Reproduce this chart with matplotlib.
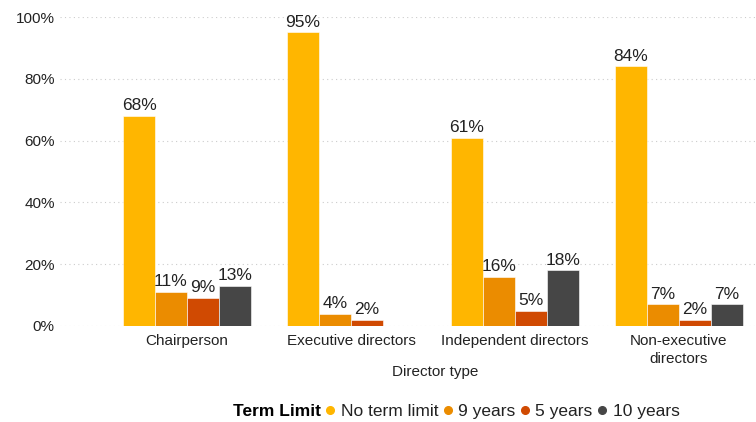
import numpy as np
import matplotlib.pyplot as plt
from matplotlib.lines import Line2D
import matplotlib.ticker as mticker

plt.rcParams["font.family"] = ["Liberation Sans", "DejaVu Sans"]

# ---- data ----
categories = ["Chairperson", "Executive directors", "Independent directors", "Non-executive\ndirectors"]
series_names = ["No term limit", "9 years", "5 years", "10 years"]
no_limit = [68, 95, 61, 84]
nine_years = [11, 4, 16, 7]
five_years = [9, 2, 5, 2]
ten_years = [13, np.nan, 18, 7]

colors = ["#FFB600", "#EB8C00", "#D04A02", "#464646"]
text_col = "#222222"

series = [no_limit, nine_years, five_years, ten_years]

fig = plt.figure(figsize=(7.56, 4.22), dpi=100)
ax = fig.add_axes([0.079, 0.2275, 0.921, 0.7322])

x = np.arange(len(categories))
w = 0.195
for i, (vals, col) in enumerate(zip(series, colors)):
    v = np.array(vals, dtype=float) / 100.0
    pos = x + (i - 1.5) * w
    bars = ax.bar(pos, v, width=w, color=col, edgecolor="white", linewidth=0.4, zorder=3)
    labels = ["" if np.isnan(a) else f"{a:.0f}%" for a in vals]
    ax.bar_label(bars, labels=labels, padding=2, fontsize=12.5, color=text_col)

ax.set_xlim(-0.776, 3.47)
ax.set_ylim(0, 1.0)
ax.yaxis.set_major_locator(mticker.MultipleLocator(0.2))
ax.yaxis.set_major_formatter(mticker.FuncFormatter(lambda v, p: f"{v*100:.0f}%"))
ax.grid(axis="y", linestyle=(0, (1, 3)), color="#cccccc", linewidth=0.8, zorder=0)
for s in ax.spines.values():
    s.set_visible(False)
ax.tick_params(length=0, labelsize=11, labelcolor=text_col)
ax.tick_params(axis="x", pad=6)
ax.set_xticks(x)
ax.set_xticklabels(categories, linespacing=1.35)

# axis title and legend row
fig.text(435 / 756, 1 - 372 / 422, "Director type", fontsize=11, color=text_col,
         ha="center", va="center")
fig.text(233 / 756, 1 - 411 / 422, "Term Limit", fontsize=12.5, fontweight="bold",
         color="black", va="center", ha="left")
handles = [Line2D([], [], marker="o", linestyle="none", markersize=5.5, color=c) for c in colors]
fig.legend(handles, series_names, loc="center left", bbox_to_anchor=(325 / 756, 1 - 411 / 422),
           ncol=4, frameon=False, fontsize=12.5, handlelength=0.6, handletextpad=0.3,
           columnspacing=0.25, borderaxespad=0, borderpad=0, labelcolor=text_col)

fig.savefig("out.png", dpi=100)
